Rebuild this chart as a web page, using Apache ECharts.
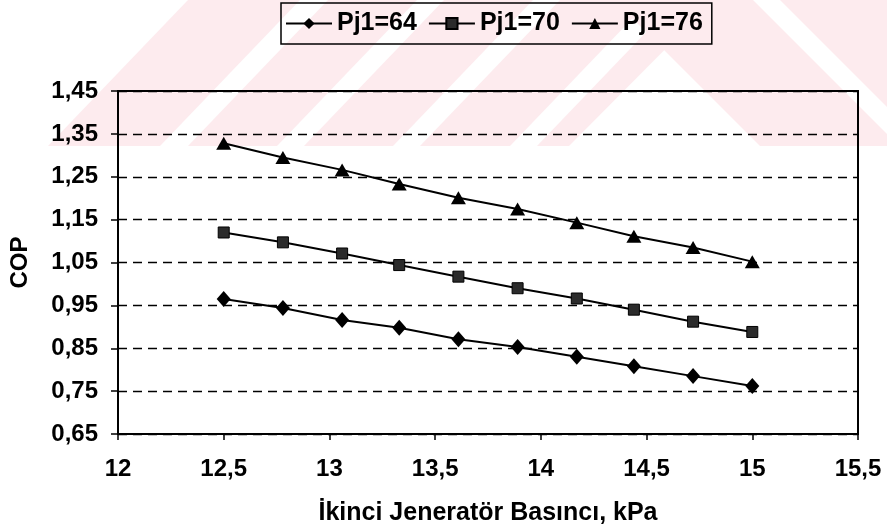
<!DOCTYPE html>
<html>
<head>
<meta charset="utf-8">
<script src="https://cdn.jsdelivr.net/npm/echarts@6/dist/echarts.min.js"></script>
<style>
html,body{margin:0;padding:0;background:#fff;}
#chart{width:887px;height:531px;}
</style>
</head>
<body>
<div id="chart"></div>
<script>
// ---- data ----
var xValues = [12.5, 12.78, 13.06, 13.33, 13.61, 13.89, 14.17, 14.44, 14.72, 15];
var pj64 = [0.965, 0.944, 0.916, 0.898, 0.871, 0.853, 0.830, 0.808, 0.785, 0.762];
var pj70 = [1.120, 1.097, 1.071, 1.044, 1.017, 0.990, 0.966, 0.940, 0.912, 0.888];
var pj76 = [1.328, 1.295, 1.266, 1.233, 1.201, 1.175, 1.143, 1.111, 1.085, 1.052];
var seriesNames = ['Pj1=64', 'Pj1=70', 'Pj1=76'];
var yTicks = [0.65, 0.75, 0.85, 0.95, 1.05, 1.15, 1.25, 1.35, 1.45];
var xTicks = [12, 12.5, 13, 13.5, 14, 14.5, 15, 15.5];
var xTitle = 'İkinci Jeneratör Basıncı, kPa';
var yTitle = 'COP';

function pairs(ys) { return xValues.map(function (x, i) { return [x, ys[i]]; }); }

var FONT = '"Liberation Sans", Arial, sans-serif';
var PINK = '#fdebee';

// decorative faint background watermark (not data)
function poly(pts, fill) {
  return { type: 'polygon', silent: true, z: -100, shape: { points: pts }, style: { fill: fill } };
}
function whiteStripe(b0, b1, s) {
  return poly([[b0, 146], [b1, 146], [b1 + s, 0], [b0 + s, 0]], '#fff');
}
var wm = [
  poly([[48, 146], [188, 0], [714, 0], [569, 146]], PINK),
  whiteStripe(160, 188, 140), whiteStripe(277, 304, 140), whiteStripe(393, 420, 140), whiteStripe(510, 537, 140),
  poly([[614, 0], [753, 0], [899, 146], [760, 146]], PINK),
  poly([[780, 0], [887, 0], [887, 107]], PINK)
];

var chart = echarts.init(document.getElementById('chart'), null, { renderer: 'canvas' });

var lineStyle = { color: '#000', width: 2 };
chart.setOption({
  animation: false,
  backgroundColor: '#fff',
  graphic: { elements: wm },
  textStyle: { fontFamily: FONT },
  legend: {
    left: 281, top: 3,
    padding: [8, 9, 8, 4],
    itemGap: 11,
    itemWidth: 46, itemHeight: 14,
    borderColor: '#000', borderWidth: 1.5,
    textStyle: { fontSize: 25, fontWeight: 'bold', color: '#000', fontFamily: FONT },
    data: seriesNames
  },
  grid: {
    left: 116, right: 29, top: 91, bottom: 97,
    show: true, borderColor: '#000', borderWidth: 2, backgroundColor: 'transparent'
  },
  xAxis: {
    type: 'value', min: 12, max: 15.5, interval: 0.5,
    name: xTitle, nameLocation: 'middle', nameGap: 67,
    nameTextStyle: { fontSize: 25, fontWeight: 'bold', color: '#000', fontFamily: FONT },
    axisLine: { show: true, lineStyle: { color: '#000', width: 2 } },
    axisTick: { show: true, length: 6, lineStyle: { color: '#000', width: 1.5 }, customValues: xTicks },
    axisLabel: { margin: 23, fontSize: 24, fontWeight: 'bold', color: '#000', fontFamily: FONT,
      customValues: xTicks,
      formatter: function (v) { return String(Math.round(v * 10) / 10).replace('.', ','); } },
    splitLine: { show: false }
  },
  yAxis: {
    type: 'value', min: 0.65, max: 1.45,
    name: yTitle, nameLocation: 'middle', nameGap: 86, nameRotate: 90,
    nameTextStyle: { fontSize: 24, fontWeight: 'bold', color: '#000', fontFamily: FONT },
    axisLine: { show: true, lineStyle: { color: '#000', width: 2 } },
    axisTick: { show: true, length: 7, lineStyle: { color: '#000', width: 1.5 }, customValues: yTicks },
    axisLabel: { margin: 20, fontSize: 24, fontWeight: 'bold', color: '#000', fontFamily: FONT,
      customValues: yTicks,
      formatter: function (v) { return v.toFixed(2).replace('.', ','); } },
    splitLine: { show: true, lineStyle: { color: '#000', width: 1.3, type: [9, 6] } }
  },
  series: [
    { name: seriesNames[0], type: 'line', data: pairs(pj64), symbol: 'diamond', symbolSize: [14, 16],
      lineStyle: lineStyle, itemStyle: { color: '#000', borderColor: '#000', borderWidth: 0 } },
    { name: seriesNames[1], type: 'line', data: pairs(pj70), symbol: 'rect', symbolSize: 11,
      lineStyle: lineStyle, itemStyle: { color: '#2b2b2b', borderColor: '#000', borderWidth: 1 } },
    { name: seriesNames[2], type: 'line', data: pairs(pj76), symbol: 'triangle', symbolSize: [15, 13],
      lineStyle: lineStyle, itemStyle: { color: '#000', borderColor: '#000', borderWidth: 0 } }
  ]
});
</script>
</body>
</html>
